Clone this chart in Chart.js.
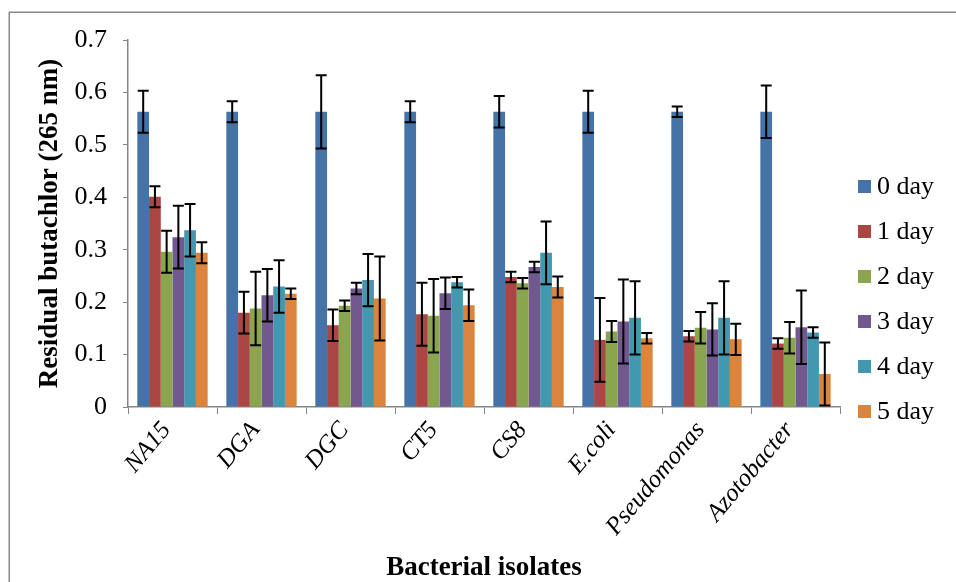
<!DOCTYPE html>
<html>
<head>
<meta charset="utf-8">
<title>Residual butachlor</title>
<script src="https://cdn.jsdelivr.net/npm/chart.js@4/dist/chart.umd.min.js"></script>
<style>
    html, body { margin: 0; padding: 0; background: #fff; }
    #wrap { width: 956px; height: 582px; }
</style>
</head>
<body>
<div id="wrap"><canvas id="butachlorChart" width="956" height="582"></canvas></div>
<script>
// Data
const categories = ['NA15', 'DGA', 'DGC', 'CT5', 'CS8', 'E.coli', 'Pseudomonas', 'Azotobacter'];
const seriesLabels = ['0 day', '1 day', '2 day', '3 day', '4 day', '5 day'];

const day0 = [0.563, 0.563, 0.563, 0.563, 0.563, 0.563, 0.563, 0.563];
const day1 = [0.401, 0.180, 0.156, 0.177, 0.248, 0.128, 0.135, 0.121];
const day2 = [0.296, 0.188, 0.193, 0.174, 0.236, 0.144, 0.151, 0.132];
const day3 = [0.324, 0.213, 0.226, 0.217, 0.267, 0.163, 0.148, 0.152];
const day4 = [0.337, 0.230, 0.242, 0.238, 0.294, 0.170, 0.170, 0.142];
const day5 = [0.294, 0.216, 0.207, 0.194, 0.229, 0.131, 0.129, 0.063];

// error bar half-lengths (+/-)
const err0 = [0.040, 0.020, 0.070, 0.020, 0.030, 0.040, 0.010, 0.050];
const err1 = [0.020, 0.040, 0.030, 0.060, 0.010, 0.080, 0.010, 0.010];
const err2 = [0.040, 0.070, 0.010, 0.070, 0.010, 0.020, 0.030, 0.030];
const err3 = [0.060, 0.050, 0.011, 0.030, 0.010, 0.080, 0.050, 0.070];
const err4 = [0.050, 0.050, 0.050, 0.010, 0.060, 0.070, 0.070, 0.010];
const err5 = [0.020, 0.010, 0.080, 0.030, 0.020, 0.010, 0.030, 0.060];

const yTickLabels = ['0', '0.1', '0.2', '0.3', '0.4', '0.5', '0.6', '0.7'];

document.addEventListener('DOMContentLoaded', function () {
    const serif = '"Liberation Serif", "Times New Roman", serif';
    const axisGray = '#868686';
    const colors = ['#4572A7', '#AA4643', '#89A54E', '#71588F', '#4198AF', '#DB843D'];
    const values = [day0, day1, day2, day3, day4, day5];
    const errors = [err0, err1, err2, err3, err4, err5];

    const datasets = seriesLabels.map(function (label, i) {
        return {
            label: label,
            data: values[i],
            errors: errors[i],
            backgroundColor: colors[i],
            borderWidth: 0,
            barPercentage: 1.0,
            categoryPercentage: 0.79
        };
    });

    // Outer frame (left and top edges are visible, the rest is cropped)
    const framePlugin = {
        id: 'frame',
        beforeDraw: function (chart) {
            const ctx = chart.ctx;
            ctx.save();
            ctx.fillStyle = '#fff';
            ctx.fillRect(0, 0, chart.width, chart.height);
            ctx.strokeStyle = '#8a8a8a';
            ctx.lineWidth = 1.5;
            ctx.beginPath();
            ctx.moveTo(9.25, chart.height + 5);
            ctx.lineTo(9.25, 12.25);
            ctx.lineTo(chart.width + 5, 12.25);
            ctx.stroke();
            ctx.restore();
        }
    };

    // Error bars drawn through the y scale
    const errorBarPlugin = {
        id: 'errorBars',
        afterDatasetsDraw: function (chart) {
            const ctx = chart.ctx;
            const yScale = chart.scales.y;
            ctx.save();
            ctx.strokeStyle = '#000';
            ctx.lineWidth = 2;
            chart.data.datasets.forEach(function (ds, i) {
                const meta = chart.getDatasetMeta(i);
                meta.data.forEach(function (bar, j) {
                    const v = ds.data[j];
                    const e = ds.errors[j];
                    const top = yScale.getPixelForValue(v + e);
                    const bottom = yScale.getPixelForValue(Math.max(v - e, 0));
                    const half = 5.5;
                    ctx.beginPath();
                    ctx.moveTo(bar.x, top);
                    ctx.lineTo(bar.x, bottom);
                    ctx.moveTo(bar.x - half, top);
                    ctx.lineTo(bar.x + half, top);
                    ctx.moveTo(bar.x - half, bottom);
                    ctx.lineTo(bar.x + half, bottom);
                    ctx.stroke();
                });
            });
            ctx.restore();
        }
    };

    // Legend on the right, Excel style
    const sideLegendPlugin = {
        id: 'sideLegend',
        afterDraw: function (chart) {
            const ctx = chart.ctx;
            const area = chart.chartArea;
            const x = area.right + 18;
            ctx.save();
            ctx.font = '26px ' + serif;
            ctx.textBaseline = 'middle';
            ctx.textAlign = 'left';
            chart.data.datasets.forEach(function (ds, i) {
                const y = 186.5 + i * 45;
                ctx.fillStyle = ds.backgroundColor;
                ctx.fillRect(x, y - 6.5, 13, 13);
                ctx.fillStyle = '#000';
                ctx.fillText(ds.label, x + 19, y + 1);
            });
            ctx.restore();
        }
    };

    new Chart(document.getElementById('butachlorChart'), {
        type: 'bar',
        data: {
            labels: categories,
            datasets: datasets
        },
        plugins: [framePlugin, errorBarPlugin, sideLegendPlugin],
        options: {
            responsive: false,
            animation: false,
            devicePixelRatio: 1,
            layout: {
                padding: { left: 0, top: 40, right: 116, bottom: 0 }
            },
            plugins: {
                legend: { display: false },
                tooltip: { enabled: false }
            },
            scales: {
                x: {
                    afterFit: function (scale) { scale.height = 175; },
                    grid: {
                        display: true,
                        drawOnChartArea: false,
                        drawTicks: true,
                        tickLength: 7,
                        color: axisGray,
                        offset: true
                    },
                    border: { color: axisGray, width: 1.5 },
                    ticks: {
                        autoSkip: false,
                        minRotation: 50,
                        maxRotation: 50,
                        padding: 2,
                        labelOffset: -6,
                        color: '#000',
                        font: { family: serif, size: 25, style: 'italic' }
                    },
                    title: {
                        display: true,
                        text: 'Bacterial isolates',
                        color: '#000',
                        padding: { top: 0, bottom: 0 },
                        font: { family: serif, size: 27, weight: 'bold', lineHeight: 1 }
                    }
                },
                y: {
                    min: 0,
                    max: 0.7,
                    afterFit: function (scale) { scale.width = 128; },
                    grid: {
                        display: true,
                        drawOnChartArea: false,
                        drawTicks: true,
                        tickLength: 5,
                        color: axisGray
                    },
                    border: { color: axisGray, width: 1.5 },
                    ticks: {
                        stepSize: 0.1,
                        padding: 16,
                        color: '#000',
                        font: { family: serif, size: 26 },
                        callback: function (value, index) {
                            return yTickLabels[index];
                        }
                    },
                    title: {
                        display: true,
                        text: 'Residual butachlor (265 nm)',
                        color: '#000',
                        padding: { top: 37, bottom: 0 },
                        font: { family: serif, size: 27, weight: 'bold', lineHeight: 1 }
                    }
                }
            }
        }
    });
});
</script>
</body>
</html>
